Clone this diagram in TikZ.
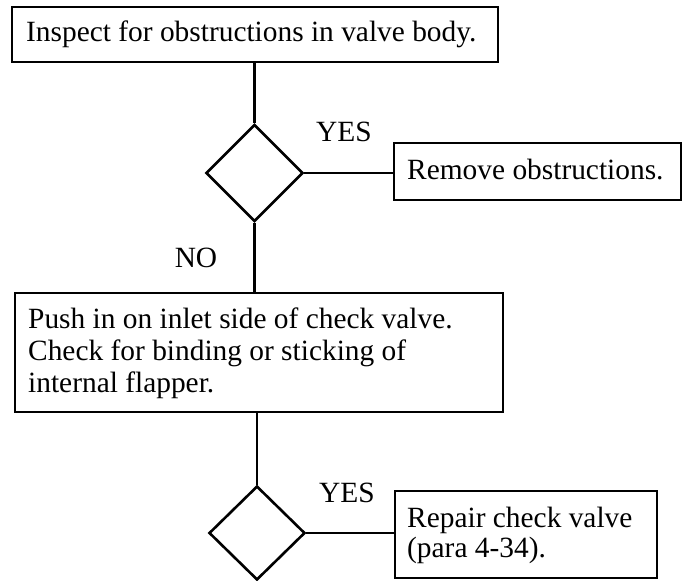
\documentclass[tikz,border=0pt]{standalone}
\usepackage{fontspec}
\setmainfont{Liberation Serif}
\usetikzlibrary{shapes.geometric}
\begin{document}
\begin{tikzpicture}[x=1bp,y=-1bp,
  every node/.style={font=\fontsize{29.5}{32}\selectfont},
  box/.style={draw,line width=2.6bp,rectangle,inner sep=0pt},
  dia/.style={draw,line width=2.6bp,diamond,inner sep=0pt},
  conn/.style={line width=2.6bp},
  lbl/.style={inner sep=0pt}]
\useasboundingbox (0,0) rectangle (683,581);
\node[box,minimum width=486bp,minimum height=55bp] (b1) at (255,34.5) {};
\node[lbl,anchor=base west] (t1) at (26,42) {Inspect for obstructions in valve body.};
\node[dia,minimum width=97bp,minimum height=97bp] (d1) at (254.5,173) {};
\node[box,minimum width=287bp,minimum height=57bp] (b2) at (537.5,171.5) {};
\node[lbl,anchor=base west] (t2) at (407,180) {Remove obstructions.};
\node[box,minimum width=488bp,minimum height=119bp] (b3) at (259,352.5) {};
\node[lbl,anchor=north west,align=left] (t3) at (28,308) {Push in on inlet side of check valve.\\Check for binding or sticking of\\internal flapper.};
\node[dia,minimum width=96bp,minimum height=94bp] (d2) at (257,533) {};
\node[box,minimum width=262bp,minimum height=87bp] (b4) at (526,534.5) {};
\node[lbl,anchor=north west,align=left,font=\fontsize{29.5}{30}\selectfont] (t4) at (407,507) {Repair check valve\\(para 4-34).};
\node[lbl,anchor=base] (y1) at (344,142) {YES};
\node[lbl,anchor=base] (n1) at (196,267) {NO};
\node[lbl,anchor=base] (y2) at (347,502) {YES};
\draw[conn] (d1.north |- b1.south) -- (d1.north);
\draw[conn] (d1.east) -- (d1.east -| b2.west);
\draw[conn] (d1.south) -- (d1.south |- b3.north);
\draw[conn] (d2.north |- b3.south) -- (d2.north);
\draw[conn] (d2.east) -- (d2.east -| b4.west);
\end{tikzpicture}
\end{document}
